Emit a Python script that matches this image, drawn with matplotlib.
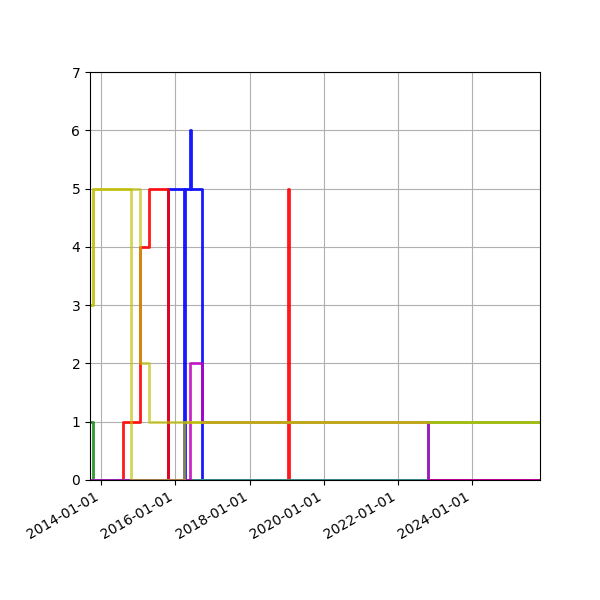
import numpy as np
import matplotlib

matplotlib.use("Agg")
import matplotlib.pyplot as plt
import matplotlib.dates as mdates

START = "2013-09-13"
END = "2025-10-30"

# step series (value holds until the next date)
blue_dates = [START, "2015-10-22", "2016-03-28", "2016-04-05", "2016-05-25", "2016-06-05", "2016-09-16", END]
blue_vals = [0, 5, 0, 5, 6, 5, 0, 0]

green_dates = [START, "2013-10-13", "2022-10-23", END]
green_vals = [1, 0, 1, 1]

red_dates = [START, "2014-08-05", "2015-01-20", "2015-04-17", "2015-10-22", "2019-01-15", "2019-01-25", END]
red_vals = [0, 1, 4, 5, 0, 5, 0, 0]

cyan_dates = [START, "2022-10-23", END]
cyan_vals = [0, 1, 1]

magenta_dates = [START, "2016-05-25", "2016-09-16", "2022-10-23", END]
magenta_vals = [0, 2, 1, 0, 0]

yellow_a_dates = [START, "2013-10-13", "2015-01-20", "2015-04-17", END]
yellow_a_vals = [3, 5, 2, 1, 1]

yellow_b_dates = [START, "2013-10-13", "2014-10-24", "2016-03-28", END]
yellow_b_vals = [3, 5, 0, 1, 1]

series = [
    (blue_dates, blue_vals, "b", 0.9),
    (green_dates, green_vals, "g", 0.8),
    (red_dates, red_vals, "r", 0.9),
    (cyan_dates, cyan_vals, "c", 0.8),
    (magenta_dates, magenta_vals, "m", 0.85),
    (yellow_a_dates, yellow_a_vals, "y", 0.65),
    (yellow_b_dates, yellow_b_vals, "y", 0.65),
]

fig, ax = plt.subplots(figsize=(6, 6), dpi=100)

for dates, vals, color, alpha in series:
    d = np.array(dates, dtype="datetime64[D]")
    ax.step(d, vals, where="post", color=color, alpha=alpha, linewidth=2.0)

ax.set_ylim(0, 7)
ax.set_xlim(np.datetime64(START), np.datetime64(END))
ax.xaxis.set_major_locator(mdates.YearLocator(2))
ax.xaxis.set_major_formatter(mdates.DateFormatter("%Y-%m-%d"))
ax.grid(True)

fig.autofmt_xdate()
fig.subplots_adjust(left=0.15, right=0.9, top=0.88, bottom=0.2)
fig.savefig("out.png", dpi=100)
